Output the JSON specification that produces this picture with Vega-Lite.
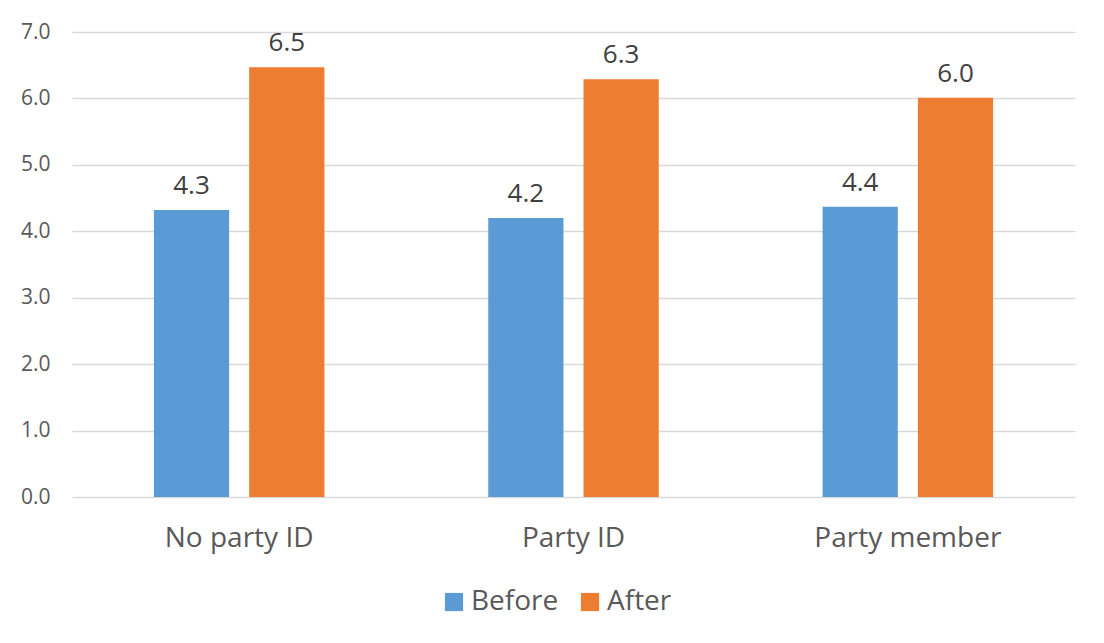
{
  "$schema": "https://vega.github.io/schema/vega-lite/v6.json",
  "width": 1003,
  "height": 465,
  "autosize": {"type": "none"},
  "padding": {"left": 72, "top": 32, "right": 29, "bottom": 146},
  "background": "white",
  "config": {
    "font": "Open Sans",
    "view": {"stroke": null}
  },
  "data": {
    "values": [
      {"group": "No party ID", "period": "Before", "value": 4.32},
      {"group": "No party ID", "period": "After", "value": 6.47},
      {"group": "Party ID", "period": "Before", "value": 4.2},
      {"group": "Party ID", "period": "After", "value": 6.29},
      {"group": "Party member", "period": "Before", "value": 4.37},
      {"group": "Party member", "period": "After", "value": 6.01}
    ]
  },
  "encoding": {
    "x": {
      "field": "group", "type": "nominal", "sort": null, "title": null,
      "scale": {"paddingInner": 0.49, "paddingOuter": 0.245},
      "axis": {"labelAngle": 0, "labelFontSize": 28, "labelColor": "#595959", "labelPadding": 27, "labelLimit": 400, "ticks": false, "domain": false}
    },
    "xOffset": {
      "field": "period", "type": "nominal", "sort": ["Before", "After"],
      "scale": {"paddingInner": 0.2105, "paddingOuter": 0}
    },
    "y": {
      "field": "value", "type": "quantitative", "title": null,
      "scale": {"domain": [0, 7], "nice": false},
      "axis": {"values": [0,1,2,3,4,5,6,7], "format": ".1f", "labelFontSize": 21, "labelColor": "#595959", "labelPadding": 22, "ticks": false, "domain": false, "gridColor": "#d9d9d9", "gridWidth": 1.5}
    }
  },
  "layer": [
    {
      "mark": {"type": "bar"},
      "encoding": {
        "color": {
          "field": "period", "type": "nominal", "sort": ["Before", "After"], "title": null,
          "scale": {"domain": ["Before", "After"], "range": ["#5b9bd5", "#ed7d31"]},
          "legend": {"orient": "none", "legendX": 368, "legendY": 556, "direction": "horizontal", "symbolType": "square", "symbolSize": 330, "symbolStrokeWidth": 0, "labelFontSize": 28, "labelColor": "#595959", "columnPadding": 17, "labelOffset": 3}
        }
      }
    },
    {
      "mark": {"type": "text", "dy": -24, "fontSize": 26, "color": "#404040"},
      "encoding": {
        "text": {"field": "value", "type": "quantitative", "format": ".1f"}
      }
    }
  ]
}
